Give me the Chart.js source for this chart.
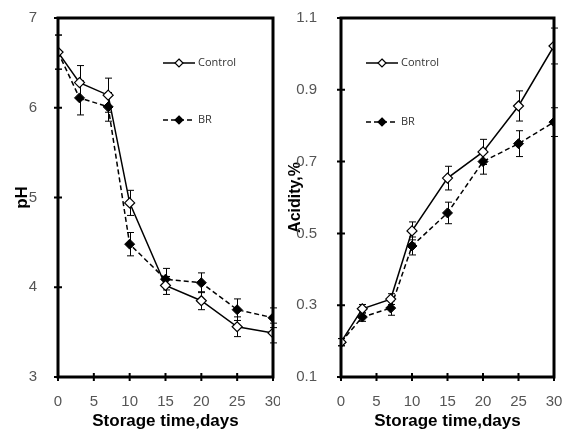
<!DOCTYPE html>
<html>
<head>
<meta charset="utf-8">
<script src="https://cdn.jsdelivr.net/npm/chart.js@4.4.0/dist/chart.umd.min.js"></script>
<style>
  html, body { margin: 0; padding: 0; background: #fff; }
  #wrap { position: relative; width: 562px; height: 432px; }
  #ph { position: absolute; left: 0; top: 0; }
  #acid { position: absolute; left: 280px; top: 0; }
</style>
</head>
<body>
<div id="wrap">
  <canvas id="ph" width="280" height="432"></canvas>
  <canvas id="acid" width="282" height="432"></canvas>
</div>
<script>
// storage time, days
const days = [0, 3, 7, 10, 15, 20, 25, 30];
const xTicks = [0, 5, 10, 15, 20, 25, 30];

// pH
const phControl = [6.62, 6.28, 6.14, 4.94, 4.02, 3.85, 3.56, 3.49];
const phControlErr = [0.19, 0.19, 0.19, 0.14, 0.10, 0.10, 0.11, 0.11];
const phBR = [6.62, 6.11, 6.01, 4.48, 4.09, 4.05, 3.75, 3.66];
const phBRErr = [0.19, 0.19, 0.16, 0.13, 0.12, 0.11, 0.12, 0.11];
const phTicks = [3, 4, 5, 6, 7];

// acidity, %
const acControl = [0.197, 0.29, 0.317, 0.507, 0.654, 0.727, 0.855, 1.022];
const acControlErr = [0.01, 0.012, 0.015, 0.025, 0.033, 0.035, 0.042, 0.05];
const acBR = [0.197, 0.267, 0.292, 0.465, 0.557, 0.70, 0.75, 0.81];
const acBRErr = [0.01, 0.012, 0.02, 0.025, 0.03, 0.035, 0.036, 0.04];
const acTicks = [0.1, 0.3, 0.5, 0.7, 0.9, 1.1];

const tickFont = { family: 'Liberation Sans', size: 15 };
const titleFont = { family: 'Liberation Sans', size: 17, weight: 'bold' };

function diamond(ctx, x, y, r, filled) {
  ctx.beginPath();
  ctx.moveTo(x, y - r);
  ctx.lineTo(x + r, y);
  ctx.lineTo(x, y + r);
  ctx.lineTo(x - r, y);
  ctx.closePath();
  ctx.fillStyle = filled ? '#000' : '#fff';
  ctx.fill();
  ctx.lineWidth = 1.2;
  ctx.strokeStyle = '#000';
  ctx.stroke();
}

const errorBars = {
  id: 'errorBars',
  beforeDatasetsDraw(chart) {
    const ctx = chart.ctx;
    const xs = chart.scales.x, ys = chart.scales.y;
    ctx.save();
    ctx.strokeStyle = '#000';
    ctx.lineWidth = 1;
    chart.data.datasets.forEach(ds => {
      ds.data.forEach((p, i) => {
        const e = ds.err[i];
        const px = Math.round(xs.getPixelForValue(p.x)) + 0.5;
        const top = ys.getPixelForValue(p.y + e);
        const bot = ys.getPixelForValue(p.y - e);
        ctx.beginPath();
        ctx.moveTo(px, top); ctx.lineTo(px, bot);
        ctx.moveTo(px - 3.5, top); ctx.lineTo(px + 3.5, top);
        ctx.moveTo(px - 3.5, bot); ctx.lineTo(px + 3.5, bot);
        ctx.stroke();
      });
    });
    ctx.restore();
  }
};

// thick box, ticks crossing the axes, and the legend inside the plot
const frame = {
  id: 'frame',
  afterDraw(chart) {
    const ctx = chart.ctx;
    const a = chart.chartArea;
    const xs = chart.scales.x, ys = chart.scales.y;
    ctx.save();
    ctx.strokeStyle = '#000';
    ctx.lineWidth = 2;
    ctx.beginPath();
    xs.ticks.forEach(t => {
      const px = xs.getPixelForValue(t.value);
      ctx.moveTo(px, a.bottom - 4); ctx.lineTo(px, a.bottom + 4);
    });
    ys.ticks.forEach(t => {
      const py = ys.getPixelForValue(t.value);
      ctx.moveTo(a.left - 4, py); ctx.lineTo(a.left + 4, py);
    });
    ctx.stroke();
    ctx.lineWidth = 3;
    ctx.strokeRect(a.left, a.top, a.right - a.left, a.bottom - a.top);

    const lg = chart.options.plugins.boxLegend;
    const lx = a.left + lg.x;
    ctx.font = '11px "Open Sans"';
    ctx.textBaseline = 'middle';
    chart.data.datasets.forEach((ds, i) => {
      const y = lg.y[i];
      ctx.lineWidth = 1.5;
      ctx.strokeStyle = '#000';
      ctx.setLineDash(ds.borderDash || []);
      ctx.beginPath();
      ctx.moveTo(lx, y); ctx.lineTo(lx + 32, y);
      ctx.stroke();
      ctx.setLineDash([]);
      diamond(ctx, lx + 16, y, 4, i === 1);
      ctx.fillStyle = '#333';
      ctx.fillText(ds.label, lx + 35, y);
    });
    ctx.restore();
  }
};

function makeChart(id, ctrl, ctrlErr, br, brErr, yTicks, yTitle, opts) {
  return new Chart(document.getElementById(id), {
    type: 'line',
    data: {
      datasets: [{
        label: 'Control',
        data: ctrl.map((v, i) => ({ x: days[i], y: v })),
        err: ctrlErr,
        borderColor: '#000',
        borderWidth: 1.5,
        pointStyle: 'rectRot',
        pointRadius: 5,
        pointBackgroundColor: '#fff',
        pointBorderColor: '#000',
        pointBorderWidth: 1.2,
        tension: 0
      }, {
        label: 'BR',
        data: br.map((v, i) => ({ x: days[i], y: v })),
        err: brErr,
        borderColor: '#000',
        borderWidth: 1.5,
        borderDash: [5, 3],
        pointStyle: 'rectRot',
        pointRadius: 5,
        pointBackgroundColor: '#000',
        pointBorderColor: '#000',
        pointBorderWidth: 1,
        tension: 0
      }]
    },
    options: {
      responsive: false,
      animation: false,
      layout: { padding: { top: 18, right: opts.padRight, left: 0, bottom: 0 } },
      plugins: {
        legend: { display: false },
        tooltip: { enabled: false },
        boxLegend: opts.legend
      },
      scales: {
        x: {
          type: 'linear',
          min: 0, max: 30,
          grid: { display: false },
          border: { display: false },
          afterBuildTicks: s => { s.ticks = xTicks.map(v => ({ value: v })); },
          afterFit: s => { s.height = 55; s.paddingRight = 0; s.paddingLeft = 0; },
          ticks: { font: tickFont, color: '#555', padding: 8, maxRotation: 0 },
          title: { display: true, text: 'Storage time,days', font: titleFont, color: '#000', padding: { top: 0, bottom: 0 } }
        },
        y: {
          min: yTicks[0], max: yTicks[yTicks.length - 1],
          grid: { display: false },
          border: { display: false },
          afterBuildTicks: s => { s.ticks = yTicks.map(v => ({ value: v })); },
          afterFit: s => { s.width = opts.yWidth; s.paddingTop = 0; s.paddingBottom = 0; },
          ticks: { font: tickFont, color: '#555', padding: opts.yPad, callback: opts.fmt },
          title: { display: true, text: yTitle, font: { family: 'Liberation Sans', size: opts.titleSize, weight: 'bold' }, color: '#000', padding: { top: opts.titlePad, bottom: 0 } }
        }
      }
    },
    plugins: [errorBars, frame]
  });
}

makeChart('ph', phControl, phControlErr, phBR, phBRErr, phTicks, 'pH', {
  padRight: 7, yWidth: 58, yPad: 13, titleSize: 17, titlePad: 12,
  fmt: v => String(v),
  legend: { x: 105, y: [63, 120] }
});
makeChart('acid', acControl, acControlErr, acBR, acBRErr, acTicks, 'Acidity,%', {
  padRight: 8, yWidth: 61, yPad: 16, titleSize: 16, titlePad: 6,
  fmt: v => v.toFixed(1),
  legend: { x: 25, y: [63, 122] }
});
</script>
</body>
</html>
